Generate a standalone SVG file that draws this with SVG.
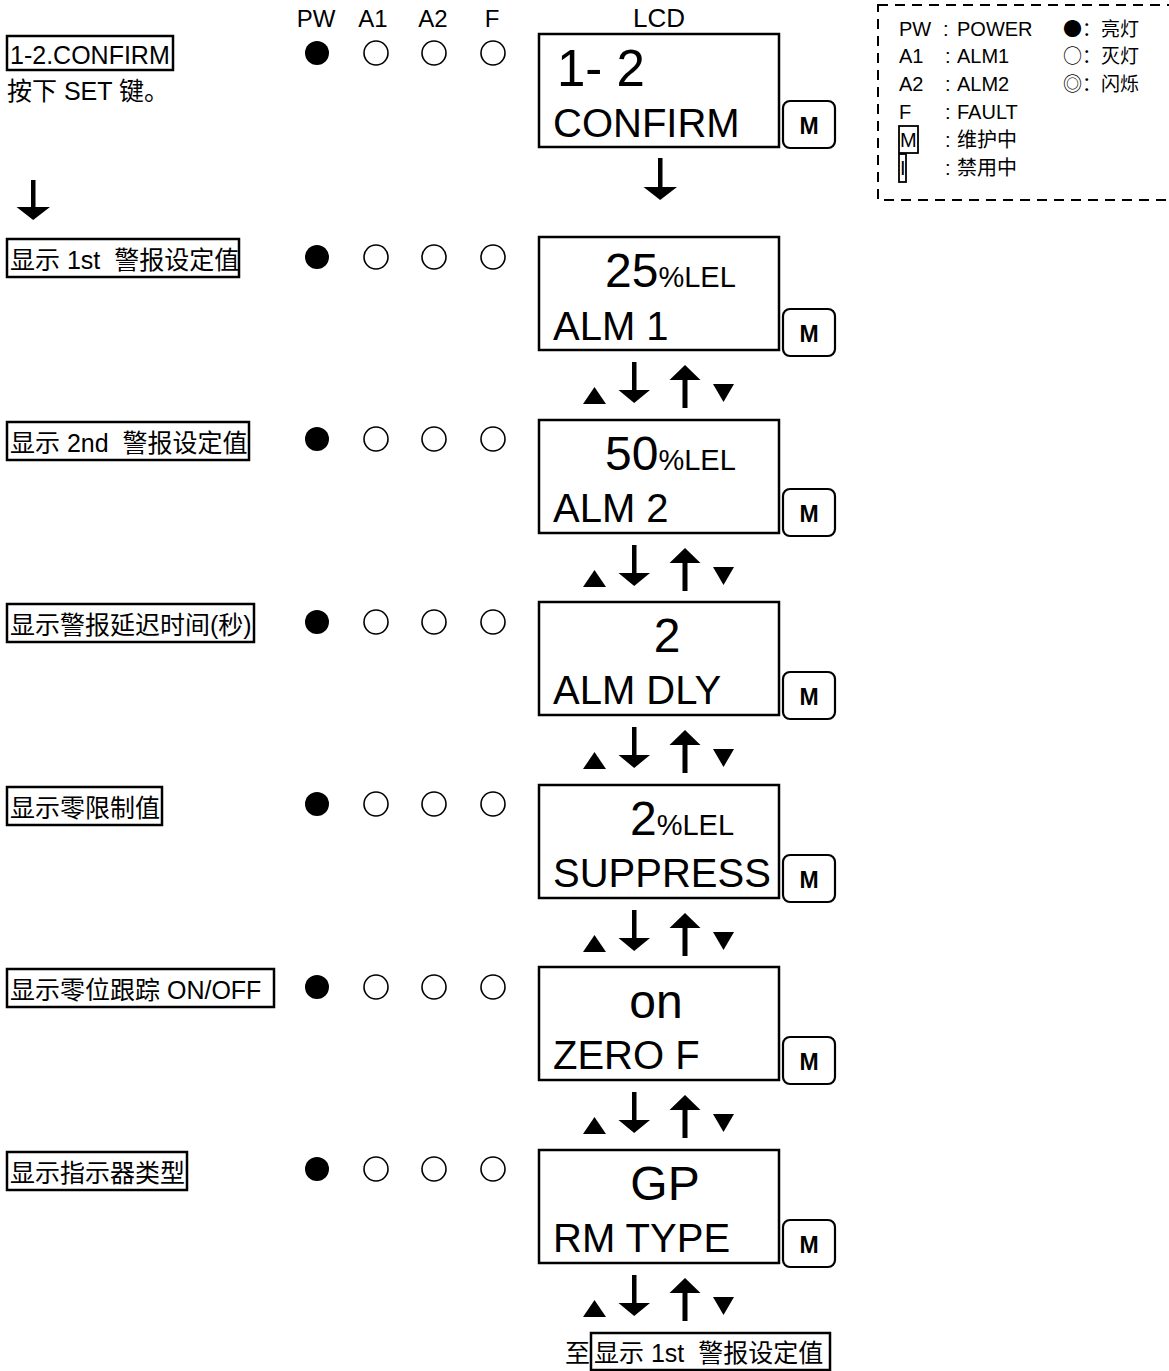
<svg xmlns="http://www.w3.org/2000/svg" xmlns:xlink="http://www.w3.org/1999/xlink" width="1169" height="1371" viewBox="0 0 1169 1371">
<style>
text{font-family:"Liberation Sans","Noto Sans CJK SC",Arial,sans-serif;fill:#000}
.hd{font-size:24px;text-anchor:middle}
.lbl{font-size:25px}
.box{fill:none;stroke:#000;stroke-width:2.5}
.lcd{fill:#fff;stroke:#000;stroke-width:2.5}
.l2{font-size:40px}
.big{font-size:48px}
.unit{font-size:29px}
.mb{fill:#fff;stroke:#000;stroke-width:2.2}
.mt{font-size:23px;font-weight:bold;text-anchor:middle}
.lg{font-size:20px}
.sym{font-family:"Noto Sans CJK SC","Noto Sans CJK JP",sans-serif;font-size:19px}
.off{fill:#fff;stroke:#000;stroke-width:1.6}
</style>
<defs>
<g id="leds">
<circle cx="317" cy="0" r="12" fill="#000"/>
<circle cx="376" cy="0" r="12" class="off"/>
<circle cx="434" cy="0" r="12" class="off"/>
<circle cx="493" cy="0" r="12" class="off"/>
</g>
<g id="mkey">
<rect x="783" y="0" width="52" height="47" rx="7" class="mb"/>
<text x="809" y="33" class="mt">M</text>
</g>
<g id="nav">
<polygon points="583,42 606,42 594.5,25" fill="#000"/>
<rect x="632" y="0" width="4.5" height="29" fill="#000"/>
<polygon points="618.5,28 650,28 634.2,41" fill="#000"/>
<polygon points="669.5,18 700.5,18 685,3" fill="#000"/>
<rect x="682.5" y="17" width="5" height="29" fill="#000"/>
<polygon points="713,22 734,22 723.5,40" fill="#000"/>
</g>
</defs>
<rect width="1169" height="1371" fill="#fff"/>

<g id="header">
<text x="316" y="27" class="hd">PW</text>
<text x="373" y="27" class="hd">A1</text>
<text x="433" y="27" class="hd">A2</text>
<text x="492" y="27" class="hd">F</text>
<text x="659" y="27" class="hd" style="font-size:26px">LCD</text>
</g>

<g id="legend">
<rect x="878" y="5" width="310" height="195" fill="none" stroke="#000" stroke-width="2" stroke-dasharray="10 7"/>
<text x="899" y="36" class="lg">PW</text><text x="943" y="36" class="lg">:</text><text x="957" y="36" class="lg">POWER</text>
<text x="899" y="63" class="lg">A1</text><text x="945" y="63" class="lg">:</text><text x="957" y="63" class="lg">ALM1</text>
<text x="899" y="91" class="lg">A2</text><text x="945" y="91" class="lg">:</text><text x="957" y="91" class="lg">ALM2</text>
<text x="899" y="119" class="lg">F</text><text x="945" y="119" class="lg">:</text><text x="957" y="119" class="lg">FAULT</text>
<rect x="899" y="126" width="19" height="27" class="box" style="stroke-width:1.8"/>
<text x="900" y="147" class="lg">M</text><text x="945" y="147" class="lg">:</text><text x="957" y="147" class="lg">维护中</text>
<rect x="899" y="154" width="7" height="28" class="box" style="stroke-width:1.8"/>
<text x="900" y="175" class="lg">I</text><text x="945" y="175" class="lg">:</text><text x="957" y="175" class="lg">禁用中</text>
<text x="1063" y="36" class="sym">●：亮灯</text>
<text x="1063" y="63" class="sym">○：灭灯</text>
<text x="1063" y="91" class="sym">◎：闪烁</text>
</g>

<g id="connectors">
<rect x="31" y="180" width="4.5" height="29" fill="#000"/>
<polygon points="16.5,207 50,207 33.2,220" fill="#000"/>
<rect x="658" y="158" width="4.5" height="30" fill="#000"/>
<polygon points="643.5,187 677,187 660.2,200" fill="#000"/>
<use xlink:href="#nav" transform="translate(0,362)"/>
<use xlink:href="#nav" transform="translate(0,545)"/>
<use xlink:href="#nav" transform="translate(0,727)"/>
<use xlink:href="#nav" transform="translate(0,910)"/>
<use xlink:href="#nav" transform="translate(0,1092)"/>
<use xlink:href="#nav" transform="translate(0,1275)"/>
</g>

<g id="step-confirm">
<rect x="7" y="36" width="166" height="34" class="box"/>
<text x="10" y="64" class="lbl">1-2.CONFIRM</text>
<text x="7" y="100" class="lbl">按下 SET 键。</text>
<use xlink:href="#leds" transform="translate(0,53)"/>
<rect x="539" y="34" width="240" height="113" class="lcd"/>
<text x="557" y="86" class="big" style="font-size:51px">1- 2</text>
<text x="553" y="137" class="l2">CONFIRM</text>
<use xlink:href="#mkey" transform="translate(0,101)"/>
</g>

<g id="step-alm1">
<rect x="7" y="239" width="232" height="38" class="box"/>
<text x="10" y="269" class="lbl">显示 1st&#160; 警报设定值</text>
<use xlink:href="#leds" transform="translate(0,257)"/>
<rect x="539" y="237" width="240" height="113" class="lcd"/>
<text x="605" y="287"><tspan class="big">25</tspan><tspan class="unit">%LEL</tspan></text>
<text x="553" y="340" class="l2">ALM 1</text>
<use xlink:href="#mkey" transform="translate(0,309)"/>
</g>

<g id="step-alm2">
<rect x="7" y="422" width="242" height="38" class="box"/>
<text x="10" y="452" class="lbl">显示 2nd&#160; 警报设定值</text>
<use xlink:href="#leds" transform="translate(0,439)"/>
<rect x="539" y="420" width="240" height="113" class="lcd"/>
<text x="605" y="470"><tspan class="big">50</tspan><tspan class="unit">%LEL</tspan></text>
<text x="553" y="522" class="l2">ALM 2</text>
<use xlink:href="#mkey" transform="translate(0,489)"/>
</g>

<g id="step-dly">
<rect x="7" y="604" width="247" height="38" class="box"/>
<text x="10" y="634" class="lbl">显示警报延迟时间(秒)</text>
<use xlink:href="#leds" transform="translate(0,622)"/>
<rect x="539" y="602" width="240" height="113" class="lcd"/>
<text x="667" y="652" class="big" text-anchor="middle">2</text>
<text x="553" y="704" class="l2">ALM DLY</text>
<use xlink:href="#mkey" transform="translate(0,672)"/>
</g>

<g id="step-suppress">
<rect x="7" y="787" width="155" height="38" class="box"/>
<text x="10" y="817" class="lbl">显示零限制值</text>
<use xlink:href="#leds" transform="translate(0,804)"/>
<rect x="539" y="785" width="240" height="113" class="lcd"/>
<text x="630" y="835"><tspan class="big">2</tspan><tspan class="unit">%LEL</tspan></text>
<text x="553" y="887" class="l2">SUPPRESS</text>
<use xlink:href="#mkey" transform="translate(0,855)"/>
</g>

<g id="step-zerof">
<rect x="7" y="969" width="267" height="38" class="box"/>
<text x="10" y="999" class="lbl">显示零位跟踪 ON/OFF</text>
<use xlink:href="#leds" transform="translate(0,987)"/>
<rect x="539" y="967" width="240" height="113" class="lcd"/>
<text x="656" y="1018" class="big" text-anchor="middle">on</text>
<text x="553" y="1069" class="l2">ZERO F</text>
<use xlink:href="#mkey" transform="translate(0,1037)"/>
</g>

<g id="step-rmtype">
<rect x="7" y="1152" width="180" height="38" class="box"/>
<text x="10" y="1182" class="lbl">显示指示器类型</text>
<use xlink:href="#leds" transform="translate(0,1169)"/>
<rect x="539" y="1150" width="240" height="113" class="lcd"/>
<text x="665" y="1200" class="big" text-anchor="middle">GP</text>
<text x="553" y="1252" class="l2">RM TYPE</text>
<use xlink:href="#mkey" transform="translate(0,1220)"/>
</g>

<g id="to-alm1">
<text x="565" y="1362" class="lbl">至</text>
<rect x="591" y="1333" width="239" height="37" class="box"/>
<text x="594" y="1362" class="lbl">显示 1st&#160; 警报设定值</text>
</g>
</svg>
